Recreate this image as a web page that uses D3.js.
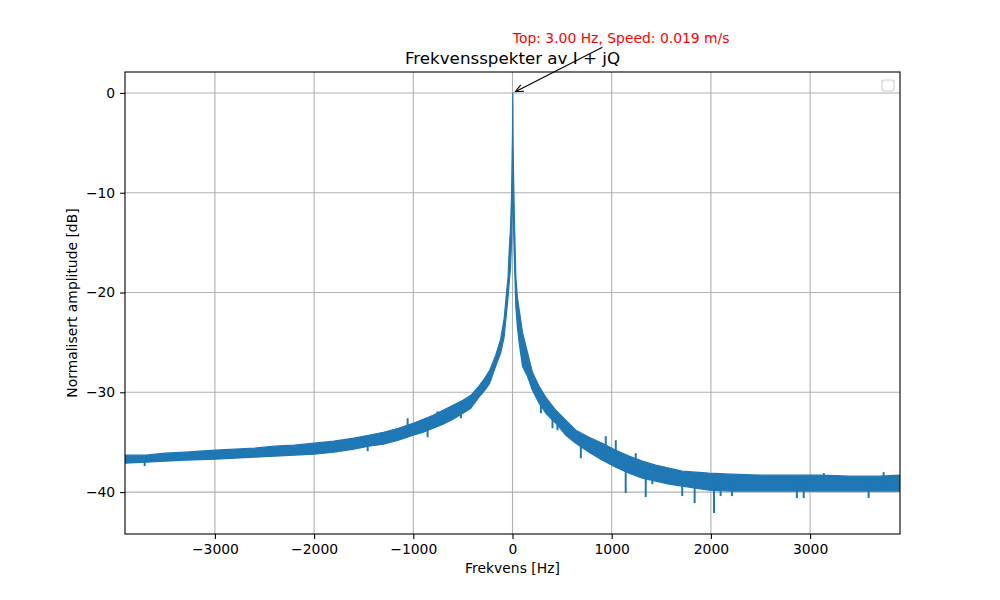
<!DOCTYPE html>
<html>
<head>
<meta charset="utf-8">
<script src="https://cdn.jsdelivr.net/npm/d3@7"></script>
<style>
  body { margin: 0; background: #fff; }
  svg text { font-family: "DejaVu Sans", sans-serif; }
</style>
</head>
<body>
<div class="chart"></div>
<script>
// spectrum band: frequency [Hz], lower and upper edge [dB]
var freqs = [-3906, -3700, -3500, -3300, -3000, -2800, -2600, -2400, -2200, -2000,
  -1800, -1600, -1450, -1300, -1150, -1000, -900, -800, -700, -600,
  -500, -420, -340, -280, -230, -170, -120, -85, -60, -45,
  -33, -20, -10, -4, 0, 3, 6, 12, 20, 34,
  50, 67, 101, 151, 201, 268, 336, 437, 537, 638,
  772, 906, 1041, 1175, 1309, 1444, 1578, 1711, 1846, 1980,
  2200, 2500, 2800, 3100, 3400, 3700, 3906];
var bandLow = [-37.1, -37.0, -36.9, -36.8, -36.7, -36.6, -36.5, -36.4, -36.3, -36.2,
  -36.0, -35.7, -35.4, -35.2, -34.8, -34.3, -34.0, -33.6, -33.2, -32.7,
  -32.1, -31.6, -30.5, -29.8, -29.1, -27.4, -26.1, -24.5, -22.0, -20.5,
  -19.0, -17.5, -15.0, -12.0, -9.0, -8.0, -10.0, -14.0, -17.0, -21.5,
  -23.5, -25.0, -27.4, -28.4, -29.8, -31.1, -32.1, -33.1, -34.3, -35.1,
  -36.0, -36.8, -37.5, -38.1, -38.6, -38.9, -39.2, -39.4, -39.6, -39.8,
  -39.9, -39.9, -39.9, -39.9, -39.9, -39.9, -39.9];
var bandHigh = [-36.3, -36.3, -36.1, -36.0, -35.8, -35.7, -35.6, -35.4, -35.3, -35.1,
  -34.9, -34.6, -34.3, -34.0, -33.6, -33.1, -32.7, -32.3, -31.8, -31.3,
  -30.8, -30.3, -29.4, -28.6, -27.8, -26.3, -24.7, -22.7, -20.0, -18.5,
  -15.7, -13.5, -10.5, -6.5, -4.0, 0.0, -5.0, -9.0, -13.0, -18.5,
  -20.5, -21.7, -24.0, -26.0, -28.0, -29.4, -30.5, -31.8, -32.8, -33.8,
  -34.5, -35.1, -35.8, -36.4, -36.9, -37.3, -37.6, -37.9, -38.0, -38.1,
  -38.2, -38.3, -38.3, -38.3, -38.4, -38.4, -38.3];

// single-bin outliers sticking out of the band
var spikeFreqs = [-3708, -1460, -1057, -856, -755, -520, 286, 403, 453, 570,
  689, 839, 940, 1041, 1141, 1242, 1343, 1410, 1711, 1836,
  2031, 2098, 2212, 2867, 2936, 3138, 3590, 3741];
var spikeBase = [-36.8, -34.9, -33.6, -33.4, -32.5, -31.6, -30.4, -32.2, -32.4, -33.6,
  -34.4, -35.6, -35.8, -36.5, -37.2, -37.5, -38.0, -38.3, -38.8, -38.9,
  -39.0, -39.1, -39.1, -39.1, -39.1, -39.0, -39.1, -39.0];
var spikeTip = [-37.4, -35.9, -32.6, -34.5, -31.9, -32.6, -32.1, -33.6, -33.8, -34.4,
  -36.6, -36.2, -34.4, -34.8, -40.1, -36.1, -40.5, -39.2, -40.4, -41.1,
  -42.1, -40.4, -40.4, -40.6, -40.6, -38.1, -40.6, -38.0];

var xTicks = [-3000, -2000, -1000, 0, 1000, 2000, 3000];
var yTicks = [-40, -30, -20, -10, 0];

var peakFreq = 3.0;
var peakDb = 0;
var peakLabel = 'Top: 3.00 Hz, Speed: 0.019 m/s';

var width = 1000;
var height = 600;
var margin = { left: 125, right: 100, top: 72, bottom: 66 };
var blue = '#1f77b4';

var x = d3.scaleLinear()
  .domain([-3906.25, 3906.25])
  .range([margin.left, width - margin.right]);
var y = d3.scaleLinear()
  .domain([-44.2, 2.1])
  .range([height - margin.bottom, margin.top]);

var svg = d3.select('.chart')
  .append('svg')
  .attr('width', width)
  .attr('height', height);

svg.append('clipPath')
  .attr('id', 'plotclip')
  .append('rect')
  .attr('x', margin.left)
  .attr('y', margin.top)
  .attr('width', width - margin.left - margin.right)
  .attr('height', height - margin.top - margin.bottom);

// grid
var grid = svg.append('g').attr('class', 'grid');
grid.selectAll('.gx')
  .data(xTicks)
  .enter()
  .append('line')
  .attr('x1', d => x(d)).attr('x2', d => x(d))
  .attr('y1', margin.top).attr('y2', height - margin.bottom)
  .attr('stroke', '#b0b0b0').attr('stroke-width', 1.1);
grid.selectAll('.gy')
  .data(yTicks)
  .enter()
  .append('line')
  .attr('x1', margin.left).attr('x2', width - margin.right)
  .attr('y1', d => y(d)).attr('y2', d => y(d))
  .attr('stroke', '#b0b0b0').attr('stroke-width', 1.1);

// spectrum
var plot = svg.append('g').attr('clip-path', 'url(#plotclip)');

var band = freqs.map(function(f, i) {
  return { f: f, lo: bandLow[i], hi: bandHigh[i] };
});

var area = d3.area()
  .x(d => x(d.f))
  .y0(d => y(d.lo))
  .y1(d => y(d.hi));

plot.append('path')
  .datum(band)
  .attr('d', area)
  .attr('fill', blue)
  .attr('stroke', blue)
  .attr('stroke-width', 1.2)
  .attr('stroke-linejoin', 'round');

plot.selectAll('.spike')
  .data(spikeFreqs)
  .enter()
  .append('line')
  .attr('x1', d => x(d)).attr('x2', d => x(d))
  .attr('y1', (d, i) => y(spikeBase[i]))
  .attr('y2', (d, i) => y(spikeTip[i]))
  .attr('stroke', blue)
  .attr('stroke-width', 2);

// axes
var xAxis = svg.append('g')
  .attr('transform', 'translate(0,' + (height - margin.bottom) + ')')
  .call(d3.axisBottom(x).tickValues(xTicks).tickSize(4.9).tickPadding(4.9)
    .tickFormat(d => String(d).replace('-', '\u2212')));
var yAxis = svg.append('g')
  .attr('transform', 'translate(' + margin.left + ',0)')
  .call(d3.axisLeft(y).tickValues(yTicks).tickSize(4.9).tickPadding(4.9)
    .tickFormat(d => String(d).replace('-', '\u2212')));

[xAxis, yAxis].forEach(function(a) {
  a.select('.domain').remove();
  a.selectAll('.tick line').attr('stroke', '#000').attr('stroke-width', 1.1);
  a.selectAll('.tick text')
    .attr('fill', '#000')
    .style('font-size', '13.9px')
    .style('font-family', '"DejaVu Sans", sans-serif');
});

// frame
svg.append('rect')
  .attr('x', margin.left)
  .attr('y', margin.top)
  .attr('width', width - margin.left - margin.right)
  .attr('height', height - margin.top - margin.bottom)
  .attr('fill', 'none')
  .attr('stroke', '#000')
  .attr('stroke-width', 1.1);

// empty legend box
svg.append('rect')
  .attr('x', width - margin.right - 18)
  .attr('y', margin.top + 8)
  .attr('width', 12)
  .attr('height', 11)
  .attr('rx', 2.5)
  .attr('fill', '#fff')
  .attr('fill-opacity', 0.8)
  .attr('stroke', '#cccccc')
  .attr('stroke-width', 1.1);

// labels
svg.append('text')
  .attr('x', (margin.left + width - margin.right) / 2)
  .attr('y', 64)
  .attr('text-anchor', 'middle')
  .attr('font-size', 16.7)
  .text('Frekvensspekter av I + jQ');

svg.append('text')
  .attr('x', (margin.left + width - margin.right) / 2)
  .attr('y', 573)
  .attr('text-anchor', 'middle')
  .attr('font-size', 13.9)
  .text('Frekvens [Hz]');

svg.append('text')
  .attr('transform', 'translate(77,' + (margin.top + height - margin.bottom) / 2 + ') rotate(-90)')
  .attr('text-anchor', 'middle')
  .attr('font-size', 13.9)
  .text('Normalisert amplitude [dB]');

// annotation of the peak
var note = svg.append('text')
  .attr('x', x(peakFreq))
  .attr('y', y(peakDb + 5))
  .attr('fill', 'red')
  .attr('font-size', 13.9)
  .text(peakLabel);

var bb = note.node().getBBox();
var cx = bb.x + bb.width / 2;
var cy = bb.y + bb.height / 2;
var px = x(peakFreq);
var py = y(peakDb);
var dx = px - cx;
var dy = py - cy;
var len = Math.sqrt(dx * dx + dy * dy);
var ux = dx / len;
var uy = dy / len;
// start where the line leaves the text box, end 2pt short of the point
var tStart = (bb.y + bb.height - cy) / dy + 2.8 / len;
var sx = cx + dx * tStart;
var sy = cy + dy * tStart;
var ex = px - ux * 2.8;
var ey = py - uy * 2.8;

var arrow = svg.append('g')
  .attr('stroke', '#000')
  .attr('stroke-width', 1.1)
  .attr('fill', 'none');
arrow.append('line')
  .attr('x1', sx).attr('y1', sy)
  .attr('x2', ex).attr('y2', ey);
var hl = 8, hw = 3.6;
arrow.append('path')
  .attr('d', 'M' + (ex - ux * hl - uy * hw) + ',' + (ey - uy * hl + ux * hw) +
    'L' + ex + ',' + ey +
    'L' + (ex - ux * hl + uy * hw) + ',' + (ey - uy * hl - ux * hw));
</script>
</body>
</html>
